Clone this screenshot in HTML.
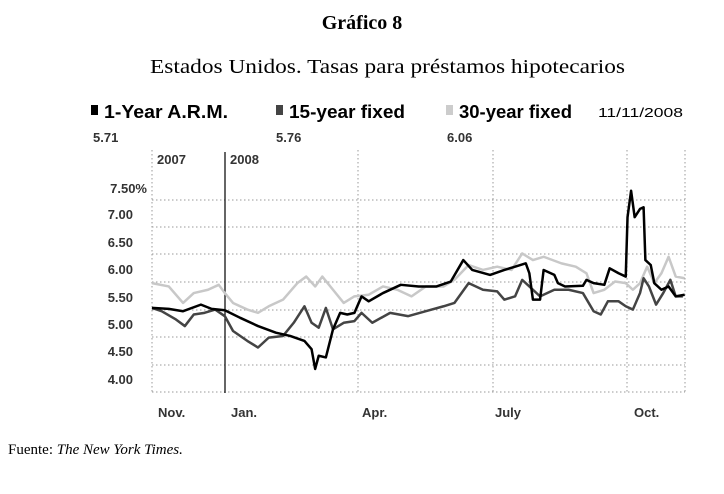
<!DOCTYPE html><html><head><style>body{margin:0;background:#fff}svg{display:block}</style></head><body>
<svg width="724" height="494" xmlns="http://www.w3.org/2000/svg">
<text x="362" y="29" text-anchor="middle" font-family="Liberation Serif,serif" font-weight="bold" font-size="20">Gráfico 8</text>
<text x="150" y="73" textLength="475" lengthAdjust="spacingAndGlyphs" font-family="Liberation Serif,serif" font-size="20">Estados Unidos. Tasas para préstamos hipotecarios</text>
<g font-family="Liberation Sans,sans-serif" font-weight="bold">
<rect x="91" y="105" width="7" height="10" fill="#000"/><text x="104" y="118" font-size="18" textLength="124" lengthAdjust="spacingAndGlyphs">1-Year A.R.M.</text>
<rect x="276" y="105" width="7" height="10" fill="#444"/><text x="289" y="118" font-size="18" textLength="116" lengthAdjust="spacingAndGlyphs">15-year fixed</text>
<rect x="446" y="105" width="7" height="10" fill="#ccc"/><text x="459" y="118" font-size="18" textLength="113" lengthAdjust="spacingAndGlyphs">30-year fixed</text>
<text x="93" y="142" font-size="13" fill="#333">5.71</text>
<text x="276" y="142" font-size="13" fill="#333">5.76</text>
<text x="447" y="142" font-size="13" fill="#333">6.06</text>
</g>
<text x="598" y="117" font-family="Liberation Sans,sans-serif" font-size="13" textLength="85" lengthAdjust="spacingAndGlyphs">11/11/2008</text>
<g stroke="#999" stroke-dasharray="1.5,2.5" stroke-width="1">
<line x1="152" y1="200" x2="685" y2="200"/><line x1="152" y1="227" x2="685" y2="227"/><line x1="152" y1="254" x2="685" y2="254"/><line x1="152" y1="282" x2="685" y2="282"/><line x1="152" y1="310" x2="685" y2="310"/><line x1="152" y1="337" x2="685" y2="337"/><line x1="152" y1="365" x2="685" y2="365"/><line x1="152" y1="392" x2="685" y2="392"/>
<line x1="152" y1="150" x2="152" y2="392"/><line x1="358" y1="150" x2="358" y2="392"/><line x1="493" y1="150" x2="493" y2="392"/><line x1="627" y1="150" x2="627" y2="392"/><line x1="685" y1="150" x2="685" y2="392"/>
</g>
<line x1="225" y1="152" x2="225" y2="393" stroke="#000" stroke-width="1.2"/>
<g font-family="Liberation Sans,sans-serif" font-weight="bold" font-size="13" fill="#333">
<text x="157" y="164">2007</text><text x="230" y="164">2008</text>
<g text-anchor="end"><text x="147" y="193">7.50%</text><text x="133" y="219">7.00</text><text x="133" y="247">6.50</text><text x="133" y="274">6.00</text><text x="133" y="302">5.50</text><text x="133" y="329">5.00</text><text x="133" y="356">4.50</text><text x="133" y="384">4.00</text></g>
<text x="158" y="417">Nov.</text><text x="231" y="417">Jan.</text><text x="362" y="417">Apr.</text><text x="495" y="417">July</text><text x="634" y="417">Oct.</text>
</g>
<g transform="translate(152,200) scale(0.357,0.33) translate(-33,-148)" fill="none" stroke-linejoin="round">
<polyline vector-effect="non-scaling-stroke" stroke="#c8c8c8" stroke-width="2.5" points="33,400 80,410 120,460 150,430 190,420 220,405 237,430 260,460 300,480 330,490 360,470 400,450 440,400 465,380 490,410 510,380 540,420 570,460 600,440 640,435 680,410 720,420 760,440 800,410 850,410 880,390 920,345 960,360 1000,350 1040,360 1070,310 1100,330 1130,320 1180,340 1220,350 1250,370 1270,430 1300,420 1330,395 1360,400 1380,420 1400,400 1420,350 1440,400 1460,370 1480,320 1500,380 1525,385"/>
<polyline vector-effect="non-scaling-stroke" stroke="#444" stroke-width="2.5" points="33,475 60,485 100,510 125,530 150,495 180,490 210,480 237,500 260,545 300,575 330,595 360,565 400,560 430,520 460,470 480,520 500,535 520,475 540,540 570,520 600,515 620,490 650,520 700,490 750,500 800,485 850,470 880,460 920,400 960,420 1000,425 1020,450 1050,440 1070,390 1090,410 1120,440 1160,420 1200,420 1240,430 1270,485 1290,495 1310,455 1340,455 1360,470 1380,480 1400,430 1410,385 1425,410 1445,465 1465,430 1485,390 1500,440 1520,440"/>
<polyline vector-effect="non-scaling-stroke" stroke="#000" stroke-width="2.5" points="33,475 80,478 120,485 170,465 200,478 237,482 280,505 330,530 380,550 420,560 460,575 480,600 490,660 500,620 520,625 540,540 560,490 580,495 600,490 620,440 640,455 680,430 730,405 780,410 830,410 870,395 905,330 930,360 980,375 1020,360 1050,350 1080,340 1090,370 1100,450 1120,450 1130,360 1160,375 1170,400 1190,410 1240,408 1250,390 1270,400 1300,405 1315,355 1340,370 1360,380 1365,200 1375,120 1385,200 1400,175 1410,170 1415,330 1430,345 1440,400 1460,420 1480,410 1500,440 1525,435"/>
</g>
<text x="8" y="454" font-family="Liberation Serif,serif" font-size="15">Fuente: <tspan font-style="italic">The New York Times.</tspan></text>
</svg></body></html>
